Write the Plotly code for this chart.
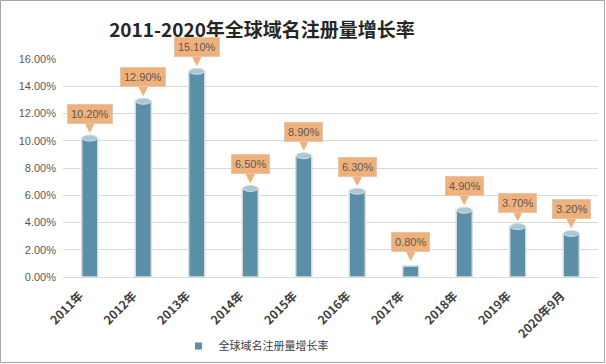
import plotly.graph_objects as go

categories = ["2011年", "2012年", "2013年", "2014年", "2015年", "2016年", "2017年", "2018年", "2019年", "2020年9月"]
growth = [0.102, 0.129, 0.151, 0.065, 0.089, 0.063, 0.008, 0.049, 0.037, 0.032]
labels = ["10.20%", "12.90%", "15.10%", "6.50%", "8.90%", "6.30%", "0.80%", "4.90%", "3.70%", "3.20%"]
series_name = "全球域名注册量增长率"
title = "2011-2020年全球域名注册量增长率"

BAR_COLOR = "#5B8FA8"
CAP_COLOR = "#A9C7D5"
LABEL_BG = "#F0B07A"
BAR_W = 0.3

fig = go.Figure()
fig.add_trace(go.Bar(
    x=list(range(len(categories))), y=growth, name=series_name,
    width=BAR_W, marker=dict(color=BAR_COLOR, line=dict(color="#D6DDE0", width=1.5)),
    showlegend=False,
))
# legend entry with a small square symbol
fig.add_trace(go.Scatter(
    x=[None], y=[None], mode="markers", name=series_name,
    marker=dict(symbol="square", size=7, color=BAR_COLOR), showlegend=True,
))

for i, (v, t) in enumerate(zip(growth, labels)):
    # callout arrow
    fig.add_annotation(
        x=i, y=v, xref="x", yref="y", text="", showarrow=True,
        ax=0, ay=-16, axref="pixel", ayref="pixel",
        arrowhead=2, arrowsize=1.0, arrowwidth=5, arrowcolor=LABEL_BG, standoff=5,
    )
    # label box
    fig.add_annotation(
        x=i, y=v, xref="x", yref="y", text=t, showarrow=False,
        yshift=24, yanchor="middle",
        bgcolor=LABEL_BG, bordercolor="#E2C6AE", borderwidth=1, borderpad=3,
        font=dict(family="Liberation Sans, Arial", size=11, color="#595959"),
    )
    if v > 0.01:
        fig.add_shape(type="circle", xref="x", yref="y",
                      x0=i - BAR_W / 2 + 0.01, x1=i + BAR_W / 2 - 0.01,
                      y0=v - 0.0022, y1=v + 0.0022,
                      fillcolor=CAP_COLOR, line=dict(color="#D6DDE0", width=1), layer="above")

# outer frame
fig.add_shape(type="rect", xref="paper", yref="paper",
              x0=-62.5 / 535, x1=(606 - 63 - 1.5) / 535, y0=-(364 - 277 - 1.5) / 218, y1=(277 - 0.5) / 218,
              line=dict(color="#A6A6A6", width=1), fillcolor="rgba(0,0,0,0)", layer="above")

fig.update_layout(
    width=606, height=364,
    margin=dict(l=63, r=8, t=59, b=87, autoexpand=False),
    paper_bgcolor="white", plot_bgcolor="white",
    title=dict(text=f"<b>{title}</b>", x=262 / 606, xref="container", xanchor="center",
               y=1 - 30 / 364, yref="container", yanchor="middle",
               font=dict(family="Noto Sans CJK SC", size=19, color="#262626")),
    xaxis=dict(tickmode="array", tickvals=list(range(len(categories))), ticktext=categories,
               range=[-0.5, len(categories) - 0.5], tickangle=-45, automargin=False,
               ticklabelshift=-10, ticklabelstandoff=6,
               tickfont=dict(family="Noto Sans CJK SC", size=12, color="#404040", weight="bold"),
               showline=True, linecolor="#D9D9D9", linewidth=1, ticks="", showgrid=False),
    yaxis=dict(range=[0, 0.16], dtick=0.02, tickformat=".2%", gridcolor="#D9D9D9", gridwidth=1,
               automargin=False, ticklabelstandoff=6,
               tickfont=dict(family="Liberation Sans, Arial", size=11, color="#595959"),
               zeroline=False, showline=False, ticks=""),
    legend=dict(orientation="h", x=256 / 606, xref="container", xanchor="center",
                y=1 - 346 / 364, yref="container", yanchor="middle",
                font=dict(family="Noto Sans CJK SC", size=11, color="#404040"),
                itemwidth=30),
)

fig.write_html("out.html", config={"displayModeBar": False},
               post_script="document.body.style.margin='0';")
